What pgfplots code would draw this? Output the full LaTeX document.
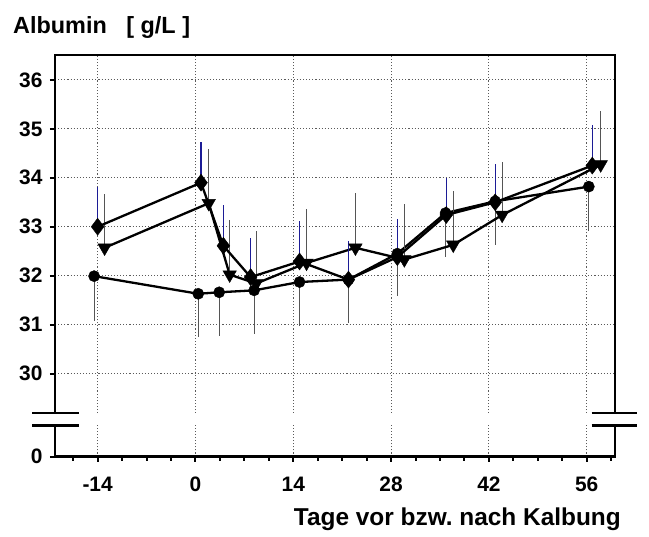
\documentclass[border=0pt]{standalone}
\usepackage{pgfplots}
\usepackage{pgfplotstable}
\pgfplotsset{compat=1.18}
\usepackage{fontspec}
\setmainfont{Liberation Sans}

\definecolor{barblue}{RGB}{28,28,150}
\definecolor{bargray}{RGB}{85,85,85}
\definecolor{gridgray}{RGB}{90,90,90}

% day, mean, SD (one-sided error bars)
\pgfplotstableread{
x     y      e
-14.0 33.00  0.82
0.8   33.90  0.84
4.0   32.61  0.84
7.9   31.97  0.80
14.9  32.29  0.82
21.9  31.92  0.79
28.9  32.38  0.78
35.9  33.24  0.75
42.9  33.50  0.79
56.8  34.25  0.83
}\diamonddata

\pgfplotstableread{
x     y      e
-13.0 32.57  1.10
1.9   33.48  1.11
4.9   32.02  1.11
8.7   31.84  1.08
15.9  32.26  1.11
22.9  32.57  1.12
29.9  32.33  1.13
36.9  32.63  1.11
43.9  33.24  1.09
58.0  34.27  1.10
}\triangledata

\pgfplotstableread{
x     y      e
-14.5 31.99  0.91
0.4   31.63  0.89
3.4   31.66  0.90
8.4   31.70  0.90
14.9  31.87  0.90
21.9  31.92  0.89
28.9  32.45  0.87
35.8  33.28  0.89
42.9  33.52  0.89
56.3  33.82  0.90
}\circledata

\begin{document}
\begin{tikzpicture}
\begin{axis}[
  scale only axis,
  width=560bp, height=401.7bp,
  xmin=-20.1, xmax=60.05,
  ymin=28.3, ymax=36.51,
  clip=false,
  axis line style={line width=2.4bp, black},
  xtick={-14,0,14,28,42,56},
  xticklabels={-14,0,14,28,42,56},
  minor xtick={-17.5,-10.5,-7,-3.5,3.5,7,10.5,17.5,21,24.5,31.5,35,38.5,45.5,49,52.5,59.5},
  ytick={28.3,30,31,32,33,34,35,36},
  yticklabels={0,30,31,32,33,34,35,36},
  tick align=outside,
  xtick pos=bottom, ytick pos=left,
  major tick length=5bp, minor tick length=4bp,
  tick style={line width=2bp, black},
  /pgf/number format/assume math mode=true,
  tick label style={font=\fontsize{21}{21}\selectfont\bfseries},
  xticklabel style={yshift=-12bp},
  yticklabel style={xshift=-4bp},
  xmajorgrids, ymajorgrids,
  major grid style={gridgray, line width=1.1bp, dash pattern=on 1.1bp off 2bp},
]
% break in the value axis
\fill[white] ([xshift=-4bp]axis cs:-20.1,28.939) rectangle ([xshift=4bp]axis cs:60.05,29.198);
\draw[line width=2.2bp] ([xshift=-22.7bp]axis cs:-20.1,29.198) -- ([xshift=24bp]axis cs:-20.1,29.198);
\draw[line width=2.2bp] ([xshift=-22.7bp]axis cs:-20.1,28.939) -- ([xshift=24bp]axis cs:-20.1,28.939);
\draw[line width=2.2bp] ([xshift=-23.3bp]axis cs:60.05,29.198) -- ([xshift=22bp]axis cs:60.05,29.198);
\draw[line width=2.2bp] ([xshift=-23.3bp]axis cs:60.05,28.939) -- ([xshift=22bp]axis cs:60.05,28.939);

\addplot[black, line width=2.3bp, mark=*, mark size=5.6bp,
  mark options={solid, fill=black, line width=0.4bp},
  error bars/.cd, y dir=minus, y explicit, error mark=none,
  error bar style={line width=1.1bp, bargray}]
  table[x=x, y=y, y error=e] {\circledata};
\addplot[black, line width=2.3bp, mark=triangle*, mark size=7.8bp,
  mark options={solid, fill=black, line width=0.4bp, rotate=180},
  error bars/.cd, y dir=plus, y explicit, error mark=none,
  error bar style={line width=1.1bp, bargray}]
  table[x=x, y=y, y error=e] {\triangledata};
\addplot[black, line width=2.3bp, mark=diamond*, mark size=8.5bp,
  mark options={solid, fill=black, line width=0.4bp},
  error bars/.cd, y dir=plus, y explicit, error mark=none,
  error bar style={line width=1.1bp, barblue}]
  table[x=x, y=y, y error=e] {\diamonddata};

\coordinate (ll) at (rel axis cs:0,0);
\coordinate (ur) at (rel axis cs:1,1);
\end{axis}
\node[anchor=base west, inner sep=0, font=\fontsize{23.5}{23.5}\selectfont\bfseries]
  at ([shift={(-42bp,21bp)}]ll |- ur) {Albumin\ \ \ [ g/L ]};
\node[anchor=base east, inner sep=0, font=\fontsize{24.5}{24.5}\selectfont\bfseries]
  at ([shift={(6bp,-68.3bp)}]ur |- ll) {Tage vor bzw.\ nach Kalbung};
\pgfresetboundingbox
\path[use as bounding box] ([shift={(-55bp,-80.3bp)}]ll) rectangle ([shift={(34bp,55bp)}]ur);
\end{tikzpicture}
\end{document}
